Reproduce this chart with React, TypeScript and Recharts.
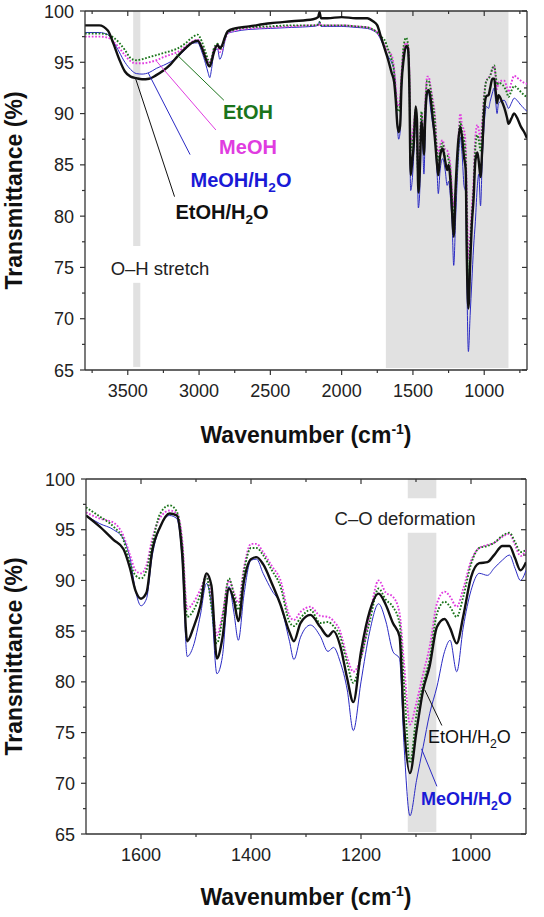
import React from 'react';
import { ComposedChart, Line, XAxis, YAxis, ReferenceArea, ReferenceLine } from 'recharts';

/* ── Style tokens ─────────────────────────────────────────── */
const FONT = "'Liberation Sans', Arial, Helvetica, sans-serif";
const AXIS = '#333333';
const TICK_TEXT = '#222222';
const BAND = '#e1e1e1';
const GREEN = '#1b741b';
const MAGENTA = '#e03ce0';
const BLUE = '#2a2ac4';
const BLACK = '#111111';

/* ── Data: wavenumbers (cm-1) and transmittance (%) ───────── */
// above the fingerprint region
const wnHigh = [3800, 3700, 3640, 3600, 3560, 3520, 3480, 3440, 3400, 3350, 3300, 3250, 3200, 3150, 3100, 3050, 3010, 2980, 2955, 2935, 2925, 2912, 2895, 2870, 2855, 2840, 2820, 2800, 2750, 2650, 2500, 2350, 2200, 2165, 2155, 2145, 2100, 2000, 1900, 1820, 1780, 1750, 1725];
const etohHigh = [97.8, 97.8, 97.7, 97.4, 96.9, 96.2, 95.4, 95.2, 95.3, 95.5, 95.7, 95.9, 96.1, 96.35, 96.8, 97.4, 97.7, 97.0, 96.0, 95.2, 95.0, 95.4, 96.4, 96.8, 96.3, 96.4, 97.3, 97.9, 98.2, 98.4, 98.5, 98.6, 98.6, 98.7, 98.9, 98.6, 98.6, 98.6, 98.5, 98.4, 98.2, 97.9, 97.5];
const meohHigh = [97.5, 97.5, 97.4, 97.0, 96.4, 95.7, 95.1, 94.9, 94.9, 95.0, 95.2, 95.5, 95.75, 96.0, 96.5, 97.0, 97.2, 96.5, 95.6, 95.0, 94.8, 95.3, 96.3, 96.6, 96.0, 96.2, 97.1, 97.8, 98.1, 98.3, 98.4, 98.5, 98.6, 98.6, 98.8, 98.6, 98.6, 98.6, 98.5, 98.4, 98.2, 97.9, 97.4];
const meohWaterHigh = [97.9, 97.9, 97.7, 97.0, 96.0, 95.0, 94.3, 93.9, 93.85, 94.0, 94.4, 94.7, 95.05, 95.5, 96.2, 96.85, 96.9, 96.0, 94.9, 93.9, 93.5, 94.4, 96.0, 96.3, 95.3, 95.7, 97.0, 97.8, 98.0, 98.2, 98.3, 98.4, 98.5, 98.6, 99.0, 98.5, 98.5, 98.5, 98.4, 98.3, 98.1, 97.8, 97.2];
const etohWaterHigh = [98.6, 98.6, 98.1, 96.8, 95.3, 94.1, 93.6, 93.45, 93.35, 93.4, 93.75, 94.2, 94.8, 95.6, 96.3, 96.9, 97.1, 96.4, 95.4, 94.7, 94.6, 95.1, 96.0, 96.7, 96.4, 96.6, 97.4, 98.0, 98.3, 98.5, 98.8, 99.0, 99.2, 99.4, 99.9, 99.3, 99.3, 99.4, 99.3, 99.3, 99.0, 98.6, 97.5];

// fingerprint region (also the lower panel)
const wnFinger = [1700, 1675, 1650, 1632, 1620, 1610, 1600, 1590, 1580, 1565, 1548, 1535, 1525, 1516, 1505, 1492, 1481, 1472, 1462, 1452, 1440, 1431, 1423, 1413, 1400, 1390, 1378, 1362, 1347, 1330, 1322, 1310, 1292, 1274, 1260, 1250, 1238, 1225, 1214, 1200, 1184, 1168, 1155, 1142, 1130, 1122, 1111, 1099, 1087, 1075, 1062, 1048, 1038, 1026, 1014, 1000, 985, 970, 958, 943, 930, 920, 910, 900];
const etohFinger = [97.2, 96.3, 95.3, 94.0, 91.7, 90.5, 90.2, 91.0, 93.5, 96.6, 97.4, 96.8, 93.5, 86.4, 87.0, 88.6, 90.4, 87.4, 83.8, 86.2, 90.2, 88.6, 87.1, 90.8, 93.2, 93.2, 92.5, 91.0, 89.5, 85.9, 85.5, 86.3, 87.1, 85.8, 85.9, 85.5, 84.5, 81.8, 79.9, 82.4, 86.0, 89.2, 88.1, 87.4, 85.8, 80.0, 72.0, 76.8, 79.8, 82.3, 86.7, 87.9, 87.4, 86.4, 88.4, 91.6, 93.2, 93.4, 93.7, 94.4, 94.7, 93.8, 92.8, 93.0];
const meohFinger = [96.7, 96.1, 95.7, 94.4, 92.5, 91.0, 90.7, 91.5, 94.0, 96.2, 96.9, 96.6, 94.0, 87.2, 87.8, 89.1, 90.4, 88.2, 84.6, 86.6, 90.0, 88.8, 87.8, 91.2, 93.6, 93.6, 92.8, 91.4, 90.1, 86.5, 86.1, 86.9, 87.4, 86.5, 86.4, 86.0, 85.0, 82.4, 81.0, 82.4, 86.6, 90.0, 88.8, 88.4, 86.8, 82.0, 75.8, 78.0, 80.8, 83.5, 87.7, 88.9, 88.4, 87.4, 89.2, 91.9, 93.2, 93.5, 93.7, 94.3, 94.6, 93.5, 92.4, 93.0];
const meohWaterFinger = [96.4, 95.6, 95.0, 94.1, 92.2, 89.0, 87.5, 88.2, 92.3, 95.3, 96.4, 96.1, 92.0, 82.5, 83.5, 86.6, 89.7, 87.6, 80.8, 82.5, 89.4, 86.8, 84.1, 88.5, 92.0, 92.1, 90.7, 89.0, 87.7, 84.0, 82.2, 84.4, 85.6, 84.5, 83.0, 83.4, 82.0, 79.2, 75.2, 80.0, 85.0, 87.7, 86.0, 83.0, 82.3, 74.0, 66.8, 70.3, 73.6, 76.9, 79.5, 83.0, 84.1, 81.0, 85.4, 89.0, 90.7, 90.5, 91.2, 92.0, 92.5, 91.2, 90.0, 91.0];
const etohWaterFinger = [96.4, 95.3, 94.0, 93.1, 91.2, 89.0, 88.2, 88.8, 92.8, 95.3, 96.6, 96.4, 92.5, 84.0, 85.3, 87.5, 90.7, 89.5, 82.3, 84.3, 89.2, 88.0, 86.0, 89.9, 92.1, 92.3, 91.6, 89.7, 87.7, 84.9, 84.0, 85.8, 86.6, 85.4, 84.5, 85.0, 83.6, 80.3, 78.0, 83.0, 87.0, 88.7, 87.6, 85.8, 84.5, 76.0, 71.0, 75.2, 79.2, 81.6, 85.4, 86.2, 85.3, 83.8, 86.5, 90.3, 91.7, 91.8, 92.5, 93.4, 93.4, 92.2, 91.0, 91.8];

// below 900 cm-1 (upper panel only)
const wnLow = [880, 860, 840, 830, 810, 790, 770, 742, 720, 700];
const etohLow = [92.9, 92.6, 92.0, 91.6, 92.2, 92.7, 92.5, 92.1, 91.8, 91.6];
const meohLow = [93.2, 93.2, 92.5, 92.1, 93.0, 93.7, 93.5, 93.2, 93.0, 92.9];
const meohWaterLow = [91.2, 91.3, 90.8, 90.5, 91.0, 91.5, 91.3, 90.8, 90.5, 90.2];
const etohWaterLow = [91.3, 90.6, 89.6, 89.0, 89.5, 90.0, 89.6, 88.7, 88.2, 87.6];

// ticks
const yMajor = [65, 70, 75, 80, 85, 90, 95, 100];
const yMinor = [67.5, 72.5, 77.5, 82.5, 87.5, 92.5, 97.5];
const topXMajor = [3500, 3000, 2500, 2000, 1500, 1000];
const topXMinor = [3750, 3250, 2750, 2250, 1750, 1250, 750];
const bottomXMajor = [1600, 1400, 1200, 1000];
const bottomXMinor = [1500, 1300, 1100];

/* ── Helpers ──────────────────────────────────────────────── */
type Row = { wn: number; etoh: number; meoh: number; meohW: number; etohW: number };

const buildRows = (wn: number[], etoh: number[], meoh: number[], meohW: number[], etohW: number[]): Row[] =>
  wn.map((w, i) => ({ wn: w, etoh: etoh[i], meoh: meoh[i], meohW: meohW[i], etohW: etohW[i] }));

const topRows = buildRows(
  [...wnHigh, ...wnFinger, ...wnLow],
  [...etohHigh, ...etohFinger, ...etohLow],
  [...meohHigh, ...meohFinger, ...meohLow],
  [...meohWaterHigh, ...meohWaterFinger, ...meohWaterLow],
  [...etohWaterHigh, ...etohWaterFinger, ...etohWaterLow],
);
const bottomRows = buildRows(wnFinger, etohFinger, meohFinger, meohWaterFinger, etohWaterFinger);

// x ticks: outward at bottom, mirrored inward at top
const makeXTick = (majors: number[], plotTop: number) => (props: any) => {
  const { x, y, payload } = props;
  const major = majors.includes(payload.value);
  const len = major ? 5 : 3;
  return (
    <g>
      <line x1={x} x2={x} y1={y} y2={y + len} stroke={AXIS} strokeWidth={1.2} />
      <line x1={x} x2={x} y1={plotTop} y2={plotTop + len} stroke={AXIS} strokeWidth={1.2} />
      {major && (
        <text x={x} y={y + 27} textAnchor="middle" fontFamily={FONT} fontSize={18} fill={TICK_TEXT}>
          {payload.value}
        </text>
      )}
    </g>
  );
};

// y ticks: outward at left, mirrored inward at right
const makeYTick = (plotRight: number) => (props: any) => {
  const { x, y, payload } = props;
  const major = yMajor.includes(payload.value);
  const len = major ? 5 : 3;
  return (
    <g>
      <line x1={x - len} x2={x} y1={y} y2={y} stroke={AXIS} strokeWidth={1.2} />
      <line x1={plotRight - len} x2={plotRight} y1={y} y2={y} stroke={AXIS} strokeWidth={1.2} />
      {major && (
        <text x={x - 11} y={y + 6.5} textAnchor="end" fontFamily={FONT} fontSize={18} fill={TICK_TEXT}>
          {payload.value}
        </text>
      )}
    </g>
  );
};

type Band = { x1: number; x2: number; y1: number; y2: number };
type Leader = { color: string; from: { x: number; y: number }; to: { x: number; y: number } };

interface PanelProps {
  rows: Row[];
  domain: [number, number];
  xMajor: number[];
  xMinor: number[];
  height: number;
  margin: { top: number; right: number; left: number; bottom: number };
  bands: Band[];
  leaders: Leader[];
}

const Panel: React.FC<PanelProps> = ({ rows, domain, xMajor, xMinor, height, margin, bands, leaders }) => {
  const plotTop = margin.top;
  const plotRight = 544 - margin.right;
  return (
    <ComposedChart width={544} height={height} data={rows} margin={margin}>
      {bands.map((b, i) => (
        <ReferenceArea key={`b${i}`} x1={b.x1} x2={b.x2} y1={b.y1} y2={b.y2} fill={BAND} fillOpacity={1} stroke="none" />
      ))}
      <XAxis
        dataKey="wn"
        type="number"
        domain={domain}
        reversed
        allowDataOverflow
        ticks={[...xMajor, ...xMinor].sort((a, b) => b - a)}
        interval={0}
        tick={makeXTick(xMajor, plotTop)}
        tickLine={false}
        tickSize={0}
        tickMargin={0}
        height={30}
        axisLine={{ stroke: AXIS, strokeWidth: 1.3 }}
      />
      <YAxis
        type="number"
        domain={[65, 100]}
        allowDataOverflow
        ticks={[...yMajor, ...yMinor].sort((a, b) => a - b)}
        interval={0}
        tick={makeYTick(plotRight)}
        tickLine={false}
        tickSize={0}
        tickMargin={0}
        width={50}
        axisLine={{ stroke: AXIS, strokeWidth: 1.3 }}
      />
      <ReferenceLine y={100} stroke={AXIS} strokeWidth={1.3} />
      <ReferenceLine x={domain[0]} stroke={AXIS} strokeWidth={1.3} />

      <Line dataKey="meohW" type="monotone" stroke={BLUE} strokeWidth={1} dot={false} isAnimationActive={false} />
      <Line dataKey="meoh" type="monotone" stroke={MAGENTA} strokeWidth={1.9} strokeDasharray="1.7 1.7" dot={false} isAnimationActive={false} />
      <Line dataKey="etoh" type="monotone" stroke={GREEN} strokeWidth={1.9} strokeDasharray="1.7 1.7" dot={false} isAnimationActive={false} />
      <Line dataKey="etohW" type="monotone" stroke={BLACK} strokeWidth={2.4} dot={false} isAnimationActive={false} />

      {leaders.map((l, i) => (
        <ReferenceLine key={`l${i}`} segment={[l.from, l.to]} stroke={l.color} strokeWidth={1} />
      ))}
    </ComposedChart>
  );
};

/* ── Annotation bits ──────────────────────────────────────── */
const topBands: Band[] = [
  { x1: 3462, x2: 3412, y1: 65.3, y2: 73.5 },
  { x1: 3462, x2: 3412, y1: 77.1, y2: 100 },
  { x1: 1690, x2: 830, y1: 65.2, y2: 100 },
];
const bottomBands: Band[] = [
  { x1: 1115, x2: 1063, y1: 65.2, y2: 94.7 },
  { x1: 1115, x2: 1063, y1: 98.1, y2: 100 },
];
const topLeaders: Leader[] = [
  { color: GREEN, from: { x: 2826, y: 91.3 }, to: { x: 3160, y: 95.8 } },
  { color: MAGENTA, from: { x: 2882, y: 88.4 }, to: { x: 3298, y: 95.1 } },
  { color: BLUE, from: { x: 3063, y: 86.0 }, to: { x: 3356, y: 93.95 } },
  { color: BLACK, from: { x: 3172, y: 81.9 }, to: { x: 3445, y: 93.4 } },
];
const bottomLeaders: Leader[] = [
  { color: BLACK, from: { x: 1053, y: 75.7 }, to: { x: 1084, y: 79.2 } },
  { color: BLUE, from: { x: 1062, y: 69.7 }, to: { x: 1090, y: 73.4 } },
];

const WithSub: React.FC<{ head: string; sub: string; tail: string; size: number }> = ({ head, sub, tail, size }) => (
  <>
    <tspan>{head}</tspan>
    <tspan dy={size * 0.28} fontSize={size * 0.68}>{sub}</tspan>
    <tspan dy={-size * 0.28}>{tail}</tspan>
  </>
);

const AxisTitleX: React.FC<{ y: number }> = ({ y }) => (
  <text x={306} y={y} textAnchor="middle" fontFamily={FONT} fontSize={23} fontWeight={700} fill={BLACK}>
    <tspan>Wavenumber (cm</tspan>
    <tspan dy={-9} fontSize={14}>-1</tspan>
    <tspan dy={9}>)</tspan>
  </text>
);

const AxisTitleY: React.FC<{ cy: number }> = ({ cy }) => (
  <text
    x={0}
    y={0}
    transform={`translate(22, ${cy}) rotate(-90)`}
    textAnchor="middle"
    fontFamily={FONT}
    fontSize={23}
    fontWeight={700}
    fill={BLACK}
  >
    Transmittance (%)
  </text>
);

export default function App() {
  return (
    <div style={{ position: 'relative', width: 544, height: 917, background: '#ffffff', overflow: 'hidden' }}>
      <style>{'body{margin:0;background:#fff}'}</style>
      <div style={{ position: 'absolute', left: 0, top: 0 }}>
        <Panel
          rows={topRows}
          domain={[700, 3800]}
          xMajor={topXMajor}
          xMinor={topXMinor}
          height={455}
          margin={{ top: 11, right: 17, left: 35, bottom: 55 }}
          bands={topBands}
          leaders={topLeaders}
        />
      </div>
      <div style={{ position: 'absolute', left: 0, top: 460 }}>
        <Panel
          rows={bottomRows}
          domain={[900, 1700]}
          xMajor={bottomXMajor}
          xMinor={bottomXMinor}
          height={457}
          margin={{ top: 19, right: 18, left: 36, bottom: 53 }}
          bands={bottomBands}
          leaders={bottomLeaders}
        />
      </div>

      {/* text overlay */}
      <svg width={544} height={917} style={{ position: 'absolute', left: 0, top: 0, pointerEvents: 'none' }}>
        <AxisTitleY cy={190.5} />
        <AxisTitleY cy={656.5} />
        <AxisTitleX y={443} />
        <AxisTitleX y={905} />

        <text x={160} y={275} textAnchor="middle" fontFamily={FONT} fontSize={18.5} fill={TICK_TEXT}>O–H stretch</text>
        <text x={405} y={525} textAnchor="middle" fontFamily={FONT} fontSize={18.5} fill={TICK_TEXT}>C–O deformation</text>

        <g fontFamily={FONT} fontWeight={700} fontSize={20}>
          <text x={248} y={119} textAnchor="middle" fill={GREEN}>EtOH</text>
          <text x={248} y={154} textAnchor="middle" fill={MAGENTA}>MeOH</text>
          <text x={241} y={186.5} textAnchor="middle" fill="#1a1ad6">
            <WithSub head="MeOH/H" sub="2" tail="O" size={20} />
          </text>
          <text x={222} y={218.5} textAnchor="middle" fill={BLACK}>
            <WithSub head="EtOH/H" sub="2" tail="O" size={20} />
          </text>
        </g>

        <text x={428} y={742.5} fontFamily={FONT} fontSize={18} fill={BLACK}>
          <WithSub head="EtOH/H" sub="2" tail="O" size={18} />
        </text>
        <text x={421} y={805} fontFamily={FONT} fontSize={18} fontWeight={700} fill="#1a1ad6">
          <WithSub head="MeOH/H" sub="2" tail="O" size={18} />
        </text>
      </svg>
    </div>
  );
}
